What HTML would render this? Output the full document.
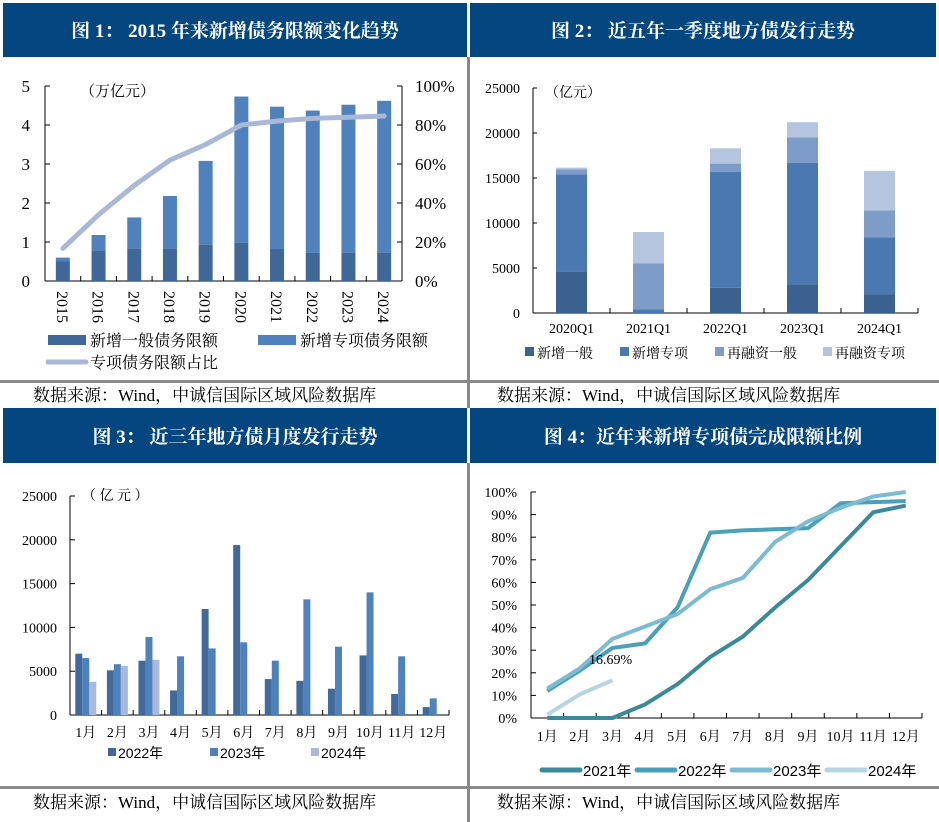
<!DOCTYPE html>
<html><head><meta charset="utf-8">
<style>
html,body{margin:0;padding:0;background:#fff}
svg{display:block;font-family:"Liberation Serif","Noto Serif CJK SC",serif}
</style></head>
<body>
<svg id="root" width="939" height="822" viewBox="0 0 939 822" xmlns="http://www.w3.org/2000/svg">
<g>
<rect x="3" y="3" width="464" height="54" fill="#04467F"/>
<rect x="470" y="3" width="466" height="54" fill="#04467F"/>
<rect x="3" y="408" width="464" height="55" fill="#04467F"/>
<rect x="470" y="408" width="466" height="55" fill="#04467F"/>
<rect x="467" y="57" width="3" height="351" fill="#8a8a8a"/>
<rect x="467" y="463" width="3" height="359" fill="#8a8a8a"/>
<rect x="0" y="380" width="939" height="3" fill="#8a8a8a"/>
<rect x="0" y="786" width="939" height="3" fill="#8a8a8a"/>
<text x="235" y="37" fill="#fff" font-size="19" font-weight="bold" text-anchor="middle">图 1： 2015 年来新增债务限额变化趋势</text>
<text x="703" y="37" fill="#fff" font-size="19" font-weight="bold" text-anchor="middle">图 2： 近五年一季度地方债发行走势</text>
<text x="235" y="443" fill="#fff" font-size="19" font-weight="bold" text-anchor="middle">图 3： 近三年地方债月度发行走势</text>
<text x="703" y="443" fill="#fff" font-size="19" font-weight="bold" text-anchor="middle">图 4：近年来新增专项债完成限额比例</text>
<text x="33" y="401" font-size="17">数据来源：Wind，中诚信国际区域风险数据库</text>
<text x="497" y="401" font-size="17">数据来源：Wind，中诚信国际区域风险数据库</text>
<text x="33" y="808" font-size="17">数据来源：Wind，中诚信国际区域风险数据库</text>
<text x="497" y="808" font-size="17">数据来源：Wind，中诚信国际区域风险数据库</text>
</g>
<g id="c1"></g>
<g id="c2"></g>
<g id="c3"></g>
<g id="c4"></g>
</svg>
<script>
// Chart 1 data
const c1Years = ['2015','2016','2017','2018','2019','2020','2021','2022','2023','2024'];
const c1General = [0.5,0.78,0.83,0.83,0.93,0.98,0.82,0.72,0.72,0.72];
const c1Total = [0.6,1.18,1.63,2.18,3.08,4.73,4.47,4.37,4.52,4.62];
const c1Share = [16.7,34,49,62,70,80,82,83.4,84,84.6];
const c1LeftTicks = [0,1,2,3,4,5];
const c1RightTicks = ['0%','20%','40%','60%','80%','100%'];
// Chart 2 data
const c2Cats = ['2020Q1','2021Q1','2022Q1','2023Q1','2024Q1'];
const c2NewGeneral = [4600,0,2800,3200,2100];
const c2NewSpecial = [10800,400,12900,13500,6300];
const c2RefGeneral = [550,5100,900,2800,3000];
const c2RefSpecial = [200,3500,1700,1700,4400];
const c2Ticks = [0,5000,10000,15000,20000,25000];
// Chart 3 data
const c3Months = ['1月','2月','3月','4月','5月','6月','7月','8月','9月','10月','11月','12月'];
const c3Y2022 = [7000,5100,6200,2800,12100,19400,4100,3900,3000,6800,2400,900];
const c3Y2023 = [6500,5800,8900,6700,7600,8300,6200,13200,7800,14000,6700,1900];
const c3Y2024 = [3800,5600,6300];
const c3Ticks = [0,5000,10000,15000,20000,25000];
// Chart 4 data
const c4Months = ['1月','2月','3月','4月','5月','6月','7月','8月','9月','10月','11月','12月'];
const c4Y2021 = [0,0,0,6,15,27,36,49,61,76,91,94];
const c4Y2022 = [12,21,31,33,49,82,83,83.5,84,95,95.5,96];
const c4Y2023 = [13,22,35,40.5,46,57,62,78,87,93,98,100];
const c4Y2024 = [1.5,10.5,16.69];
const c4Ticks = [0,10,20,30,40,50,60,70,80,90,100];

const NS='http://www.w3.org/2000/svg';
function mk(parent,tag,attrs,text){const e=document.createElementNS(NS,tag);for(const k in attrs)e.setAttribute(k,attrs[k]);if(text!==undefined)e.textContent=text;parent.appendChild(e);return e;}

// ---------- Chart 1 ----------
(function(){
const g=document.getElementById('c1');
const L=45,R=402,Y0=281,YT=86;
const y=v=>Y0-(v/5)*(Y0-YT);
const yr=p=>Y0-(p/100)*(Y0-YT);
const bw=(R-L)/c1Years.length;
const x=i=>L+bw*(i+0.5);
mk(g,'line',{x1:L,y1:YT,x2:L,y2:Y0,stroke:'#000'});
mk(g,'line',{x1:R,y1:YT,x2:R,y2:Y0,stroke:'#000'});
mk(g,'line',{x1:L,y1:Y0,x2:R,y2:Y0,stroke:'#000'});
c1LeftTicks.forEach(t=>{
 mk(g,'line',{x1:L,y1:y(t),x2:L+5,y2:y(t),stroke:'#000'});
 const e=mk(g,'text',{x:30,y:y(t)+6,'font-size':17,'text-anchor':'end'},t);
 
 
});
c1RightTicks.forEach((t,i)=>{
 const v=i*20;
 mk(g,'line',{x1:R-5,y1:yr(v),x2:R,y2:yr(v),stroke:'#000'});
 const e=mk(g,'text',{x:415,y:yr(v)+6,'font-size':17},t);
 
 
});
const u=mk(g,'text',{x:80,y:96,'font-size':15},'（万亿元）');


c1Years.forEach((yrn,i)=>{
 if(i>0) mk(g,'line',{x1:L+bw*i,y1:Y0-5,x2:L+bw*i,y2:Y0,stroke:'#000'});
 const b1=mk(g,'rect',{x:x(i)-7,y:y(c1Total[i]),width:14,height:y(c1General[i])-y(c1Total[i]),fill:'#4F81BD'});
 
 
 const b2=mk(g,'rect',{x:x(i)-7,y:y(c1General[i]),width:14,height:Y0-y(c1General[i]),fill:'#3F6898'});
 
 
 const t=mk(g,'text',{x:x(i)-6,y:291,'font-size':16,transform:`rotate(90 ${x(i)-6} 291)`},yrn);
 
 
});
const pts=c1Share.map((p,i)=>x(i)+','+yr(p)).join(' ');
const ln=mk(g,'polyline',{points:pts,fill:'none',stroke:'#A9B8D8','stroke-width':5,'stroke-linejoin':'round','stroke-linecap':'round'});


const leg=[[48,341,'rect','#3F6898','新增一般债务限额'],[258,341,'rect','#4F81BD','新增专项债务限额'],[48,363,'line','#A9B8D8','专项债务限额占比']];
leg.forEach(l=>{
 if(l[2]==='rect') mk(g,'rect',{x:l[0],y:l[1]-6,width:38,height:10,fill:l[3]});
 else mk(g,'line',{x1:l[0],y1:l[1]-1,x2:l[0]+38,y2:l[1]-1,stroke:l[3],'stroke-width':5,'stroke-linecap':'round'});
 const t=mk(g,'text',{x:l[0]+42,y:l[1]+5,'font-size':16},l[4]);
 
 
});
})();

// ---------- Chart 2 ----------
(function(){
const g=document.getElementById('c2');
const L=533,R=918,Y0=313,YT=88;
const y=v=>Y0-(v/25000)*(Y0-YT);
const bw=(R-L)/c2Cats.length;
const x=i=>L+bw*(i+0.5);
mk(g,'line',{x1:L,y1:YT,x2:L,y2:Y0,stroke:'#000'});
mk(g,'line',{x1:L,y1:Y0,x2:R,y2:Y0,stroke:'#000'});
c2Ticks.forEach(t=>{
 mk(g,'line',{x1:L,y1:y(t),x2:L+4,y2:y(t),stroke:'#000'});
 const e=mk(g,'text',{x:520,y:y(t)+5,'font-size':14,'text-anchor':'end'},t);
 
 
});
const u=mk(g,'text',{x:545,y:97,'font-size':14},'（亿元）');


const series=[[c2NewGeneral,'#3B6191','new-general'],[c2NewSpecial,'#4A78B0','new-special'],[c2RefGeneral,'#7E9CC8','refin-general'],[c2RefSpecial,'#B5C4DF','refin-special']];
c2Cats.forEach((c,i)=>{
 mk(g,'line',{x1:L+bw*(i+1),y1:Y0-5,x2:L+bw*(i+1),y2:Y0,stroke:'#000'});
 let acc=0;
 series.forEach(s=>{
  const v=s[0][i];
  const r=mk(g,'rect',{x:x(i)-15.5,y:y(acc+v),width:31,height:y(acc)-y(acc+v),fill:s[1]});
  
  
  acc+=v;
 });
 const t=mk(g,'text',{x:x(i),y:333,'font-size':14,'text-anchor':'middle'},c);
 
 
});
const leg=[[525,'#3B6191','新增一般'],[620,'#4A78B0','新增专项'],[715,'#7E9CC8','再融资一般'],[823,'#B5C4DF','再融资专项']];
leg.forEach(l=>{
 mk(g,'rect',{x:l[0],y:347,width:9,height:9,fill:l[1]});
 const t=mk(g,'text',{x:l[0]+12,y:358,'font-size':14},l[2]);
 
 
});
})();

// ---------- Chart 3 ----------
(function(){
const g=document.getElementById('c3');
const L=70,R=449,Y0=715,YT=496;
const y=v=>Y0-(v/25000)*(Y0-YT);
const bw=(R-L)/c3Months.length;
const x=i=>L+bw*(i+0.5);
mk(g,'line',{x1:L,y1:YT,x2:L,y2:Y0,stroke:'#000'});
mk(g,'line',{x1:L,y1:Y0,x2:R,y2:Y0,stroke:'#000'});
c3Ticks.forEach(t=>{
 mk(g,'line',{x1:L,y1:y(t),x2:L+5,y2:y(t),stroke:'#000'});
 const e=mk(g,'text',{x:57,y:y(t)+5,'font-size':14,'text-anchor':'end'},t);
 
 
});
const u=mk(g,'text',{x:82,y:500,'font-size':14},'（ 亿 元 ）');


const series=[[c3Y2022,'#416A9B','2022'],[c3Y2023,'#4F81BD','2023'],[c3Y2024,'#A9B9DA','2024']];
c3Months.forEach((m,i)=>{
 mk(g,'line',{x1:L+bw*(i+1),y1:Y0-5,x2:L+bw*(i+1),y2:Y0,stroke:'#000'});
 series.forEach((s,k)=>{
  const v=s[0][i];
  if(v===undefined) return;
  const r=mk(g,'rect',{x:x(i)-10.5+k*7,y:y(v),width:7,height:Y0-y(v),fill:s[1]});
  
  
 });
 const t=mk(g,'text',{x:x(i),y:737,'font-size':14,'text-anchor':'middle'},m);
 
 
});
const leg=[[108,'#416A9B','2022年'],[210,'#4F81BD','2023年'],[311,'#A9B9DA','2024年']];
leg.forEach(l=>{
 mk(g,'rect',{x:l[0],y:748,width:8,height:8,fill:l[1]});
 const t=mk(g,'text',{x:l[0]+10,y:758,'font-size':14,'font-family':'"Liberation Sans","Noto Sans CJK SC",sans-serif'},l[2]);
 
 
});
})();

// ---------- Chart 4 ----------
(function(){
const g=document.getElementById('c4');
const L=531,R=922,Y0=718,YT=492;
const y=v=>Y0-(v/100)*(Y0-YT);
const bw=(R-L)/c4Months.length;
const x=i=>L+bw*(i+0.5);
mk(g,'line',{x1:L,y1:YT,x2:L,y2:Y0,stroke:'#000'});
mk(g,'line',{x1:L,y1:Y0,x2:R,y2:Y0,stroke:'#000'});
c4Ticks.forEach(t=>{
 mk(g,'line',{x1:L,y1:y(t),x2:L+5,y2:y(t),stroke:'#000'});
 const e=mk(g,'text',{x:517,y:y(t)+5,'font-size':14,'text-anchor':'end'},t+'%');
 
 
});
c4Months.forEach((m,i)=>{
 mk(g,'line',{x1:L+bw*(i+1),y1:Y0,x2:L+bw*(i+1),y2:Y0-5,stroke:'#000'});
 const t=mk(g,'text',{x:x(i),y:741,'font-size':14,'text-anchor':'middle'},m);
 
 
});
const series=[[c4Y2021,'#3A8A9A','2021'],[c4Y2022,'#4AA0B8','2022'],[c4Y2023,'#7CBCD0','2023'],[c4Y2024,'#B5D5E0','2024']];
series.forEach(s=>{
 const pts=s[0].map((v,i)=>x(i)+','+y(v)).join(' ');
 const p=mk(g,'polyline',{points:pts,fill:'none',stroke:s[1],'stroke-width':4,'stroke-linejoin':'round'});
 
 
});
const a=mk(g,'text',{x:589,y:664,'font-size':14},c4Y2024[c4Y2024.length-1].toFixed(2)+'%');


const leg=[[542,'#3A8A9A','2021年'],[637,'#4AA0B8','2022年'],[732,'#7CBCD0','2023年'],[827,'#B5D5E0','2024年']];
leg.forEach(l=>{
 mk(g,'line',{x1:l[0],y1:770,x2:l[0]+38,y2:770,stroke:l[1],'stroke-width':5,'stroke-linecap':'round'});
 const t=mk(g,'text',{x:l[0]+41,y:776,'font-size':15,'font-family':'"Liberation Sans","Noto Sans CJK SC",sans-serif'},l[2]);
 
 
});
})();
</script>
</body></html>
